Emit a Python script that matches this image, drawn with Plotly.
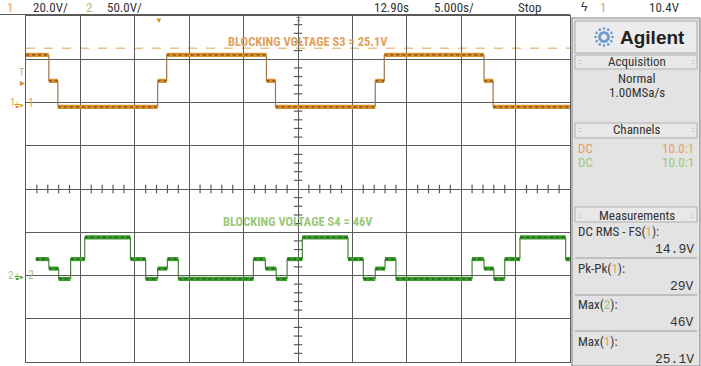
import math
import plotly.graph_objects as go

W, H = 701, 366

# ---------------- data ----------------
# time in ms (5 ms/div, delay 12.90), voltages in V
ch1_edges = [-12.1, -10.0, -9.17, 0.0, 0.83, 10.0, 10.83, 20.0, 20.83, 30.0, 30.83, 37.9]
ch1_levels = [22, 10, -2, 10, 22, 10, -2, 10, 22, 10, -2]

ch2_edges = [-11.2, -10.0, -9.1, -8.0, -6.7, -2.5, -1.1, 0.0, 0.9, 1.9, 8.8, 9.9, 10.9,
             11.9, 13.3, 17.5, 18.9, 20.0, 20.9, 21.9, 28.9, 30.0, 30.9, 31.9, 33.3, 37.5, 37.9]
ch2_levels = [19, 8, -4, 19, 44, 19, -4, 8, 19, -4, 19, 8, -4,
              19, 44, 19, -4, 8, 19, -4, 19, 8, -4, 19, 44, 19]

ch1_block_v = 25.1
trig_level = 10.4
time_center = 12.90
time_per_div = 5.0
ch1_vdiv, ch2_vdiv = 20.0, 50.0

meas_labels = ["DC RMS - FS(", "Pk-Pk(", "Max(", "Max("]
meas_src = ["1", "1", "2", "1"]
meas_values = ["14.9V", "29V", "46V", "25.1V"]

# ---------------- colours / helpers ----------------
C1 = "#d98f2b"
C1_DARK = "#7a4a10"
C2 = "#3d9a2c"
C2_DARK = "#125e12"
C1_TXT = "#e2a25a"
C2_TXT = "#9cc87a"
GRID = "#5a5a5a"
TXT = "#333333"
NARROW = "Roboto Condensed, Liberation Sans Narrow, sans-serif"


def px(x):
    return x / W


def py(y):
    return 1 - y / H


def step_traces(edges, levels, color, dark, vcolor, yaxis):
    hx, hy, vx, vy = [], [], [], []
    for i, lv in enumerate(levels):
        hx += [edges[i], edges[i + 1], None]
        hy += [lv, lv, None]
        if i + 1 < len(levels):
            vx += [edges[i + 1], edges[i + 1], None]
            vy += [lv, levels[i + 1], None]
    return [
        go.Scatter(x=vx, y=vy, mode="lines", line=dict(color=vcolor, width=1.2),
                   yaxis=yaxis, hoverinfo="skip", showlegend=False),
        go.Scatter(x=hx, y=hy, mode="lines", line=dict(color=color, width=4.2),
                   yaxis=yaxis, hoverinfo="skip", showlegend=False),
        go.Scatter(x=hx, y=hy, mode="lines", line=dict(color=dark, width=1.3, dash="dot"),
                   yaxis=yaxis, hoverinfo="skip", showlegend=False),
    ]


x0 = time_center - 5 * time_per_div
x1 = time_center + 5 * time_per_div

fig = go.Figure()
for tr in step_traces(ch1_edges, ch1_levels, C1, C1_DARK, "#9a7550", "y"):
    fig.add_trace(tr)
for tr in step_traces(ch2_edges, ch2_levels, C2, C2_DARK, "#4f7f3f", "y2"):
    fig.add_trace(tr)

# minor ticks on the centre axes
tx = [x0 + i * time_per_div / 5 for i in range(1, 50) if i % 5 != 0]
fig.add_trace(go.Scatter(x=tx, y=[-2 * ch1_vdiv] * len(tx), mode="markers",
                         marker=dict(symbol="line-ns", size=6, line=dict(color=GRID, width=1.2)),
                         yaxis="y", hoverinfo="skip", showlegend=False))
ty = [-120 + i * ch1_vdiv / 5 for i in range(1, 40) if i % 5 != 0]
fig.add_trace(go.Scatter(x=[time_center] * len(ty), y=ty, mode="markers",
                         marker=dict(symbol="line-ew", size=6, line=dict(color=GRID, width=1.2)),
                         yaxis="y", hoverinfo="skip", showlegend=False))

plot_dom_x = [px(26), px(570)]
plot_dom_y = [py(362), py(16)]

fig.update_layout(
    width=W, height=H, margin=dict(l=0, r=0, t=0, b=0),
    paper_bgcolor="white", plot_bgcolor="white",
    xaxis=dict(domain=plot_dom_x, range=[x0, x1], tick0=x0, dtick=time_per_div,
               showgrid=True, gridcolor=GRID, gridwidth=1.3, showticklabels=False,
               zeroline=False, showline=True, linecolor=GRID, linewidth=1.3, mirror=True,
               ticks=""),
    yaxis=dict(domain=plot_dom_y, range=[-6 * ch1_vdiv, 2 * ch1_vdiv], tick0=0, dtick=ch1_vdiv,
               showgrid=True, gridcolor=GRID, gridwidth=1.3, showticklabels=False,
               zeroline=False, showline=True, linecolor=GRID, linewidth=1.3, mirror=True,
               ticks=""),
    yaxis2=dict(domain=plot_dom_y, range=[-2 * ch2_vdiv, 6 * ch2_vdiv], overlaying="y",
                showgrid=False, showticklabels=False, zeroline=False, ticks=""),
)

shapes = []
ann = []

# blocking voltage dashed line (ch1)
shapes.append(dict(type="line", xref="x", yref="y", x0=x0, x1=x1, y0=ch1_block_v, y1=ch1_block_v,
                   line=dict(color="#e6c38c", width=1.5, dash="dash"), layer="below"))
# ground lines slightly darker
shapes.append(dict(type="line", xref="x", yref="y", x0=x0 + 0.8, x1=x1, y0=0, y1=0,
                   line=dict(color="#222222", width=1.2), layer="below"))
shapes.append(dict(type="line", xref="x", yref="y2", x0=x0 + 0.8, x1=x1, y0=0, y1=0,
                   line=dict(color="#222222", width=1.2), layer="below"))

ann.append(dict(x=px(308), y=py(41), xref="paper", yref="paper", showarrow=False,
                yanchor="middle", text="<b>BLOCKING VOLTAGE S3 = 25.1V</b>",
                font=dict(family=NARROW, size=12.5, color=C1_TXT)))
ann.append(dict(x=px(298), y=py(221), xref="paper", yref="paper", showarrow=False,
                yanchor="middle", text="<b>BLOCKING VOLTAGE S4 = 46V</b>",
                font=dict(family=NARROW, size=12.5, color=C2_TXT)))


def t(x, y, s, color=TXT, size=12, xanchor="center", family=NARROW, bold=False):
    ann.append(dict(x=px(x), y=py(y), xref="paper", yref="paper", showarrow=False,
                    text=("<b>%s</b>" % s) if bold else s, xanchor=xanchor, yanchor="middle",
                    font=dict(family=family, size=size, color=color)))

t(21, 72, "T", C1_TXT, 10)
t(22, 82, "▸", C1, 10)
t(12, 103, "1", C1_TXT, 11)
t(19, 105, "⏚▸", C1, 9)
t(31, 103, "1", C1_TXT, 12)
t(10, 275, "2", C2_TXT, 11)
t(19, 277, "⏚▸", C2, 9)
t(31, 275, "2", C2_TXT, 12)
t(159, 21, "▼", C1, 8)
t(298, 22, "Ŧ", "#777777", 10)

# top status bar
t(10, 7, "1", C1_TXT, 13)
t(50, 7, "20.0V/", TXT, 13)
t(89, 7, "2", C2_TXT, 13)
t(124, 7, "50.0V/", TXT, 13)
t(391, 7, "12.90s", TXT, 13)
t(454, 7, "5.000s/", TXT, 13)
t(529, 7, "Stop", TXT, 13)
t(584, 7, "ϟ", TXT, 12)
t(603, 7, "1", C1_TXT, 13)
t(664, 7, "10.4V", TXT, 13)
shapes.append(dict(type="line", xref="paper", yref="paper", x0=px(0), x1=px(570), y0=py(14.5), y1=py(14.5),
                   line=dict(color=GRID, width=1.2)))


def rect(xa, ya, xb, yb, fill, line="#a0a0a0", lw=1):
    shapes.append(dict(type="rect", xref="paper", yref="paper", x0=px(xa), x1=px(xb), y0=py(yb), y1=py(ya),
                       fillcolor=fill, line=dict(color=line, width=lw)))


def hline(xa, xb, y, color="#9a9a9a", w=1):
    shapes.append(dict(type="line", xref="paper", yref="paper", x0=px(xa), x1=px(xb), y0=py(y), y1=py(y),
                       line=dict(color=color, width=w)))


rect(572, 18, 700, 366, "#e3e3e3", "#8a8a8a", 1.2)
rect(575, 21, 697, 53, "#ececec", "#a8a8a8")
for k in range(12):
    a = 2 * math.pi * k / 12
    for r, s in ((4.5, 1.6), (8.5, 1.3)):
        cx, cy = 604 + r * math.cos(a), 37 + r * math.sin(a)
        shapes.append(dict(type="circle", xref="paper", yref="paper",
                           x0=px(cx - s), x1=px(cx + s), y0=py(cy + s), y1=py(cy - s),
                           fillcolor="#6a9ad0", line=dict(width=0)))
t(652, 37, "Agilent", "#222222", 19, family="Liberation Sans, Arial, sans-serif", bold=True)

rect(575, 55, 697, 69, "#e8e8e8", "#b0b0b0")
t(637, 62, "Acquisition", TXT, 13)
t(580, 62, "::", "#999999", 8)
t(693, 62, "::", "#999999", 8)
t(637, 78, "Normal", TXT, 13)
t(637, 93, "1.00MSa/s", TXT, 13)

rect(575, 123, 697, 138, "#e8e8e8", "#b0b0b0")
t(637, 130, "Channels", TXT, 13)
t(580, 130, "::", "#999999", 8)
t(693, 130, "::", "#999999", 8)
t(576, 148, "DC", C1_TXT, 13, xanchor="left")
t(696, 148, "10.0:1", C1_TXT, 13, xanchor="right")
t(576, 162, "DC", C2_TXT, 13, xanchor="left")
t(696, 162, "10.0:1", C2_TXT, 13, xanchor="right")

rect(575, 207, 697, 222, "#e8e8e8", "#b0b0b0")
t(637, 215, "Measurements", TXT, 13)
t(580, 215, "::", "#999999", 8)
t(693, 215, "::", "#999999", 8)

rows_y = [231, 268, 304, 341]
for i, (lab, src, val) in enumerate(zip(meas_labels, meas_src, meas_values)):
    y = rows_y[i]
    col = C1_TXT if src == "1" else C2_TXT
    t(576, y, "%s<span style='color:%s'>%s</span>):" % (lab, col, src), TXT, 13, xanchor="left")
    t(696, y + 18, val, TXT, 13, xanchor="right", family="Liberation Mono, DejaVu Sans Mono, monospace")
    if i < 3:
        hline(575, 697, y + 27)

fig.update_layout(shapes=shapes, annotations=ann)
fig.write_html("out.html")
